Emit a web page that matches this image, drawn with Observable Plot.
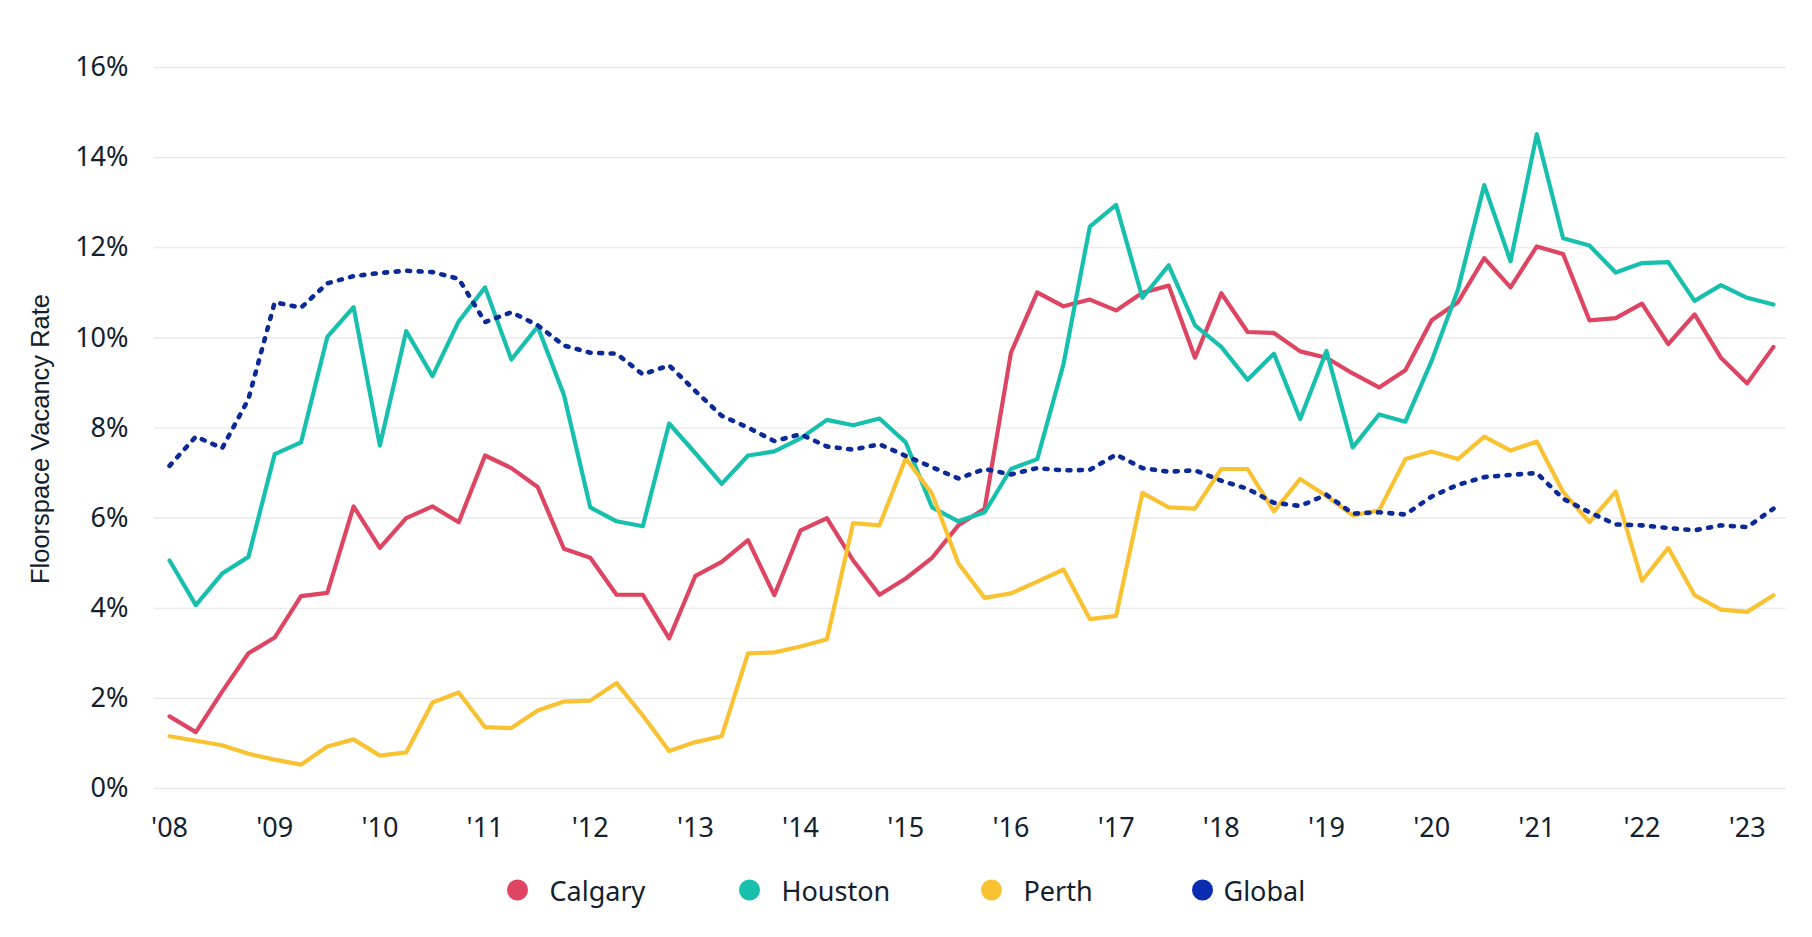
<!DOCTYPE html>
<html>
<head>
<meta charset="utf-8">
<script src="https://cdn.jsdelivr.net/npm/d3@7"></script>
<script src="https://cdn.jsdelivr.net/npm/@observablehq/plot@0.6"></script>
<style>
  html, body { margin: 0; padding: 0; background: #fff; }
  #chart { width: 1812px; }
  #legend { position: relative; width: 1812px; height: 87px; font-family: "Noto Sans", sans-serif; font-size: 27px; color: #13212f; }
  .item { position: absolute; top: 40px; transform: translateY(-50%); display: flex; align-items: center; white-space: nowrap; }
  .dot { width: 21px; height: 21px; border-radius: 50%; display: inline-block; }
</style>
</head>
<body>
<div id="chart"></div>
<div id="legend"></div>
<script>
// Quarterly observations, 2008 Q1 – 2023 Q2
const startYear = 2008;
const nQuarters = 62;
const quarters = Array.from({length: nQuarters}, (_, i) => startYear + i / 4);

const yearTicks = [2008, 2009, 2010, 2011, 2012, 2013, 2014, 2015, 2016, 2017, 2018, 2019, 2020, 2021, 2022, 2023];
const yTicks = [0, 2, 4, 6, 8, 10, 12, 14, 16];

const seriesNames = ["Calgary", "Houston", "Perth", "Global"];
const seriesColors = ["#dd4562", "#17bfad", "#f9c232", "#0b2a96"];
const legendColors = ["#dd4562", "#17bfad", "#f9c232", "#0a2cb0"];

const calgary = [1.60, 1.25, 2.15, 3.00, 3.35, 4.27, 4.34, 6.26, 5.34, 6.00, 6.26, 5.91, 7.39, 7.11, 6.69, 5.32,
  5.12, 4.30, 4.30, 3.33, 4.72, 5.03, 5.51, 4.29, 5.73, 6.00, 5.06, 4.30, 4.66, 5.12, 5.84,
  6.21, 9.67, 11.01, 10.70, 10.85, 10.61, 11.00, 11.16, 9.56, 10.99, 10.13, 10.11, 9.70, 9.56,
  9.21, 8.90, 9.28, 10.39, 10.79, 11.77, 11.12, 12.03, 11.86, 10.39, 10.44, 10.76, 9.86, 10.52, 9.56, 8.99, 9.80];

const houston = [5.06, 4.07, 4.77, 5.14, 7.42, 7.68, 10.02, 10.68, 7.61, 10.15, 9.15, 10.37, 11.12, 9.52, 10.25, 8.73,
  6.24, 5.93, 5.82, 8.10, 7.44, 6.76, 7.39, 7.48, 7.77, 8.18, 8.06, 8.21, 7.68, 6.24, 5.93,
  6.13, 7.09, 7.31, 9.42, 12.47, 12.95, 10.89, 11.61, 10.28, 9.80, 9.07, 9.65, 8.20, 9.71,
  7.57, 8.30, 8.14, 9.49, 11.07, 13.39, 11.70, 14.52, 12.21, 12.05, 11.45, 11.66, 11.68, 10.82, 11.17, 10.89, 10.74];

const perth = [1.16, 1.06, 0.96, 0.77, 0.64, 0.53, 0.93, 1.09, 0.73, 0.80, 1.91, 2.13, 1.36, 1.34, 1.73, 1.93,
  1.95, 2.34, 1.62, 0.83, 1.03, 1.16, 3.00, 3.02, 3.15, 3.31, 5.89, 5.84, 7.33, 6.54, 5.00,
  4.23, 4.33, 4.59, 4.86, 3.76, 3.83, 6.56, 6.24, 6.21, 7.09, 7.09, 6.15, 6.87, 6.49,
  6.06, 6.17, 7.31, 7.48, 7.31, 7.81, 7.50, 7.70, 6.58, 5.91, 6.59, 4.61, 5.34, 4.29, 3.97, 3.92, 4.29];

const globalRate = [7.16, 7.81, 7.55, 8.64, 10.79, 10.67, 11.21, 11.37, 11.44, 11.49, 11.46, 11.31, 10.35, 10.57, 10.28, 9.83,
  9.67, 9.65, 9.19, 9.39, 8.82, 8.27, 8.01, 7.71, 7.86, 7.59, 7.52, 7.64, 7.38, 7.13, 6.88,
  7.09, 6.97, 7.11, 7.06, 7.07, 7.41, 7.11, 7.03, 7.06, 6.83, 6.65, 6.34, 6.27, 6.52,
  6.10, 6.13, 6.08, 6.48, 6.74, 6.91, 6.96, 7.00, 6.43, 6.13, 5.86, 5.84, 5.78, 5.73, 5.84, 5.80, 6.21];

const yLabel = "Floorspace Vacancy Rate";

const seriesValues = [calgary, houston, perth, globalRate];
const rows = seriesNames.flatMap((name, s) =>
  seriesValues[s].map((v, i) => ({series: name, t: quarters[i], v})));

const textColor = "#13212f";
const tickFont = "Noto Sans, sans-serif";

const lineFor = (name, color, extra = {}) =>
  Plot.line(rows.filter(d => d.series === name), {
    x: "t", y: "v", stroke: color, strokeWidth: 4.2, strokeLinejoin: "round", ...extra
  });

const chart = Plot.plot({
  width: 1812,
  height: 850,
  marginLeft: 154,
  marginRight: 26,
  marginTop: 67,
  marginBottom: 62,
  style: {fontFamily: tickFont, color: textColor, background: "#fff"},
  x: {domain: [2007.857, 2023.374]},
  y: {domain: [0, 16]},
  marks: [
    Plot.gridY(yTicks, {stroke: "#e6e6e6", strokeOpacity: 1, strokeWidth: 1.2}),
    Plot.axisX(yearTicks, {
      tickSize: 0, tickPadding: 29, fontSize: 27, fill: textColor,
      tickFormat: d => "'" + String(d).slice(2), label: null
    }),
    Plot.axisY(yTicks, {
      tickSize: 0, tickPadding: 26, fontSize: 27, fill: textColor,
      tickFormat: d => d + "%", label: null
    }),
    Plot.text([yLabel], {
      text: d => d, frameAnchor: "left", rotate: -90, dx: -114, dy: 11,
      lineAnchor: "middle", textAnchor: "middle",
      fontSize: 25.5, fontFamily: "Liberation Sans, Arial, sans-serif", fill: textColor
    }),
    lineFor("Calgary", seriesColors[0]),
    lineFor("Houston", seriesColors[1]),
    lineFor("Perth", seriesColors[2]),
    lineFor("Global", seriesColors[3], {strokeWidth: 4.6, strokeDasharray: "3 8.5", strokeLinecap: "round"})
  ]
});
document.getElementById("chart").appendChild(chart);

// Legend
const legendDotX = [517, 749, 991, 1202];
const legendGap = [22, 22, 22, 11];
const legend = document.getElementById("legend");
seriesNames.forEach((name, i) => {
  const item = document.createElement("div");
  item.className = "item";
  item.style.left = (legendDotX[i] - 10.5) + "px";
  const dot = document.createElement("span");
  dot.className = "dot";
  dot.style.background = legendColors[i];
  const lab = document.createElement("span");
  lab.textContent = name;
  lab.style.marginLeft = legendGap[i] + "px";
  item.appendChild(dot);
  item.appendChild(lab);
  legend.appendChild(item);
});
</script>
</body>
</html>
